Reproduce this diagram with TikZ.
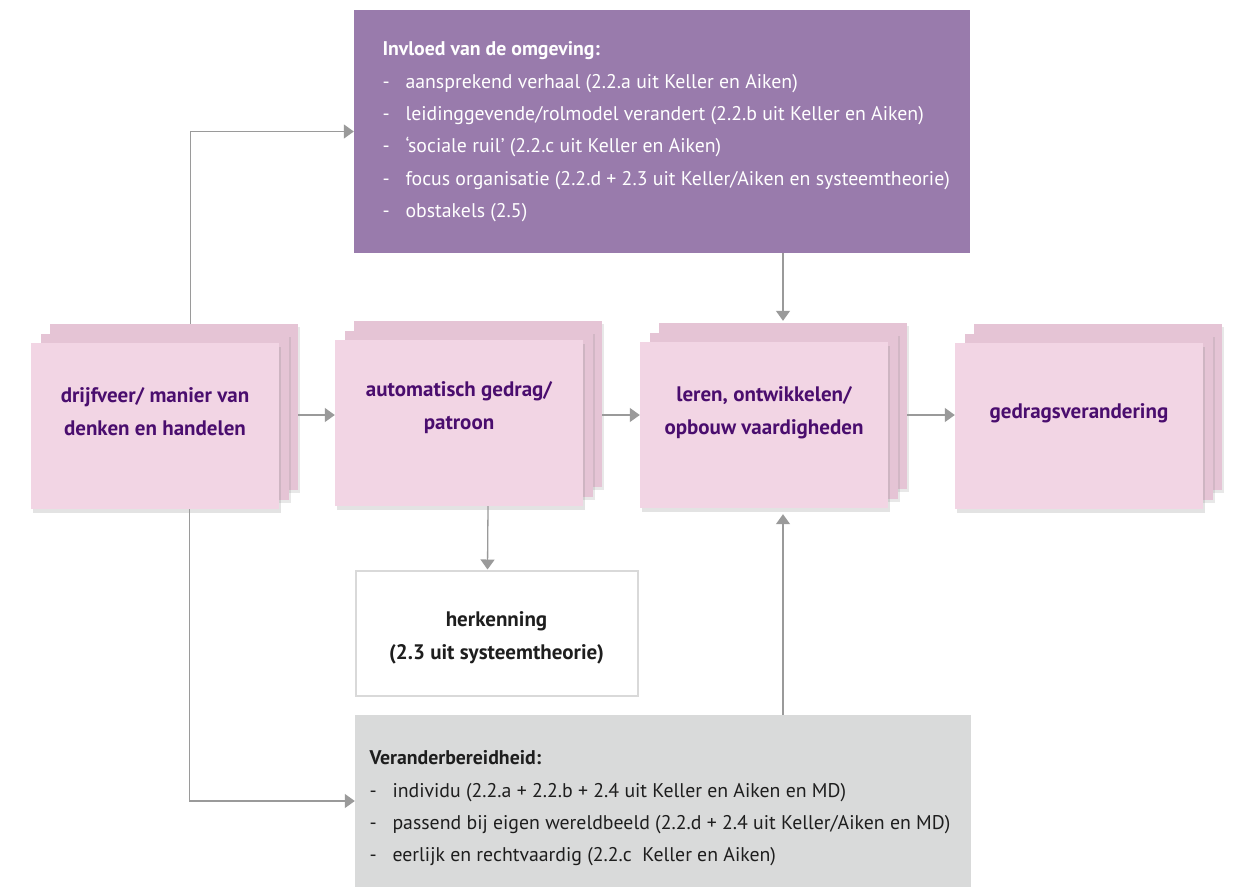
\documentclass[tikz,border=0pt]{standalone}
\usepackage{fontspec}
\setmainfont{PT Sans}
\usetikzlibrary{shadows,arrows.meta,calc}
\definecolor{pinkbox}{HTML}{F2D5E4}
\definecolor{pinkback}{HTML}{E5C4D5}
\definecolor{purpletxt}{HTML}{4A0D6E}
\definecolor{lilac}{HTML}{997BAC}
\definecolor{greybox}{HTML}{D9DADA}
\definecolor{arrowgrey}{HTML}{9A9A9A}
\definecolor{framegrey}{HTML}{D9D9D9}
\definecolor{darktxt}{HTML}{1E1E1E}
\tikzset{
  cardfront/.style={fill=pinkbox, minimum width=248pt, minimum height=166pt, inner sep=0pt,
    drop shadow={shadow xshift=2pt, shadow yshift=-4pt, opacity=0.22}},
  cardback/.style={fill=pinkback, minimum width=248pt, minimum height=166pt, inner sep=0pt,
    drop shadow={shadow xshift=2pt, shadow yshift=-3pt, opacity=0.18}},
  cardtext/.style={text=purpletxt, align=center, font=\fontsize{21}{33}\selectfont\bfseries},
  conn/.style={draw=arrowgrey, line width=1.3pt, -{Triangle[length=10pt,width=14pt]}},
  listtext/.style={anchor=north west, align=left, font=\fontsize{19.8}{32.4}\selectfont},
}
\newcommand\itm{\hbox to 23pt{-\hfil}}
% a stack of three cards: name, x and y of the front card's top-left corner
\newcommand\cardstack[3]{%
  \node[cardback] (#1c) at (#2+124+19,#3+83-19) {};
  \node[cardback] (#1m) at (#2+124+9.5,#3+83-9.5) {};
  \node[cardfront] (#1) at (#2+124,#3+83) {};
}
\begin{document}
\begin{tikzpicture}[x=1pt,y=-1pt]
\useasboundingbox (0,0) rectangle (1249,887);

% influence box
\node[fill=lilac, minimum width=616pt, minimum height=243pt, inner sep=0pt] (infl) at (662,131.5) {};
\node[listtext, text=white] (infltxt) at (379,38) {\textbf{Invloed van de omgeving:}\\
\itm aansprekend verhaal (2.2.a uit Keller en Aiken)\\
\itm leidinggevende/rolmodel verandert (2.2.b uit Keller en Aiken)\\
\itm ‘sociale ruil’ (2.2.c uit Keller en Aiken)\\
\itm focus organisatie (2.2.d + 2.3 uit Keller/Aiken en systeemtheorie)\\
\itm obstakels (2.5)};

% readiness box
\node[fill=greybox, minimum width=616pt, minimum height=172pt, inner sep=0pt] (ready) at (663,801) {};
\node[listtext, text=darktxt] (readytxt) at (366,747) {\textbf{Veranderbereidheid:}\\
\itm individu (2.2.a + 2.2.b + 2.4 uit Keller en Aiken en MD)\\
\itm passend bij eigen wereldbeeld (2.2.d + 2.4 uit Keller/Aiken en MD)\\
\itm eerlijk en rechtvaardig (2.2.c\ \ Keller en Aiken)};

% recognition box
\node[draw=framegrey, line width=2pt, fill=white, minimum width=282pt, minimum height=125pt, inner sep=0pt] (herk) at (496.5,633) {};
\node[align=center, text=darktxt, font=\fontsize{21}{33}\selectfont\bfseries] (herktxt) at (496.5,638) {herkenning\\(2.3 uit systeemtheorie)};

% card stacks
\cardstack{b1}{31}{343}
\cardstack{b2}{335}{340}
\cardstack{b3}{640}{342}
\cardstack{b4}{955}{343}

\node[cardtext] (b1t) at ($(b1.center)+(0,-14)$) {drijfveer/ manier van\\denken en handelen};
\node[cardtext] (b2t) at ($(b2.center)+(0,-15)$) {automatisch gedrag/\\patroon};
\node[cardtext] (b3t) at ($(b3.center)+(0,-12)$) {leren, ontwikkelen/\\opbouw vaardigheden};
\node[cardtext] (b4t) at ($(b4.center)+(0,-13)$) {gedragsverandering};

% connectors
\draw[conn] ($(b1c.north west)+(141,0)$) |- (infl.west);
\draw[conn] ($(b1.south west)+(159,0)$) |- (ready.west);
\draw[conn] (b1c.east |- 0,415) -- (b2.west |- 0,415);
\draw[conn] (b2c.east |- 0,415) -- (b3.west |- 0,415);
\draw[conn] (b3c.east |- 0,415) -- (b4.west |- 0,415);
\draw[conn] (b3c.north |- infl.south) -- ($(b3c.north)+(0,-2)$);
\draw[conn] (b3c.north |- ready.north) -- ($(b3c.north |- b3.south)+(0,6)$);
\draw[conn] ($(b2.south)+(29,0)$) -- ($(herk.north)+(-9,0)$);
\end{tikzpicture}
\end{document}
